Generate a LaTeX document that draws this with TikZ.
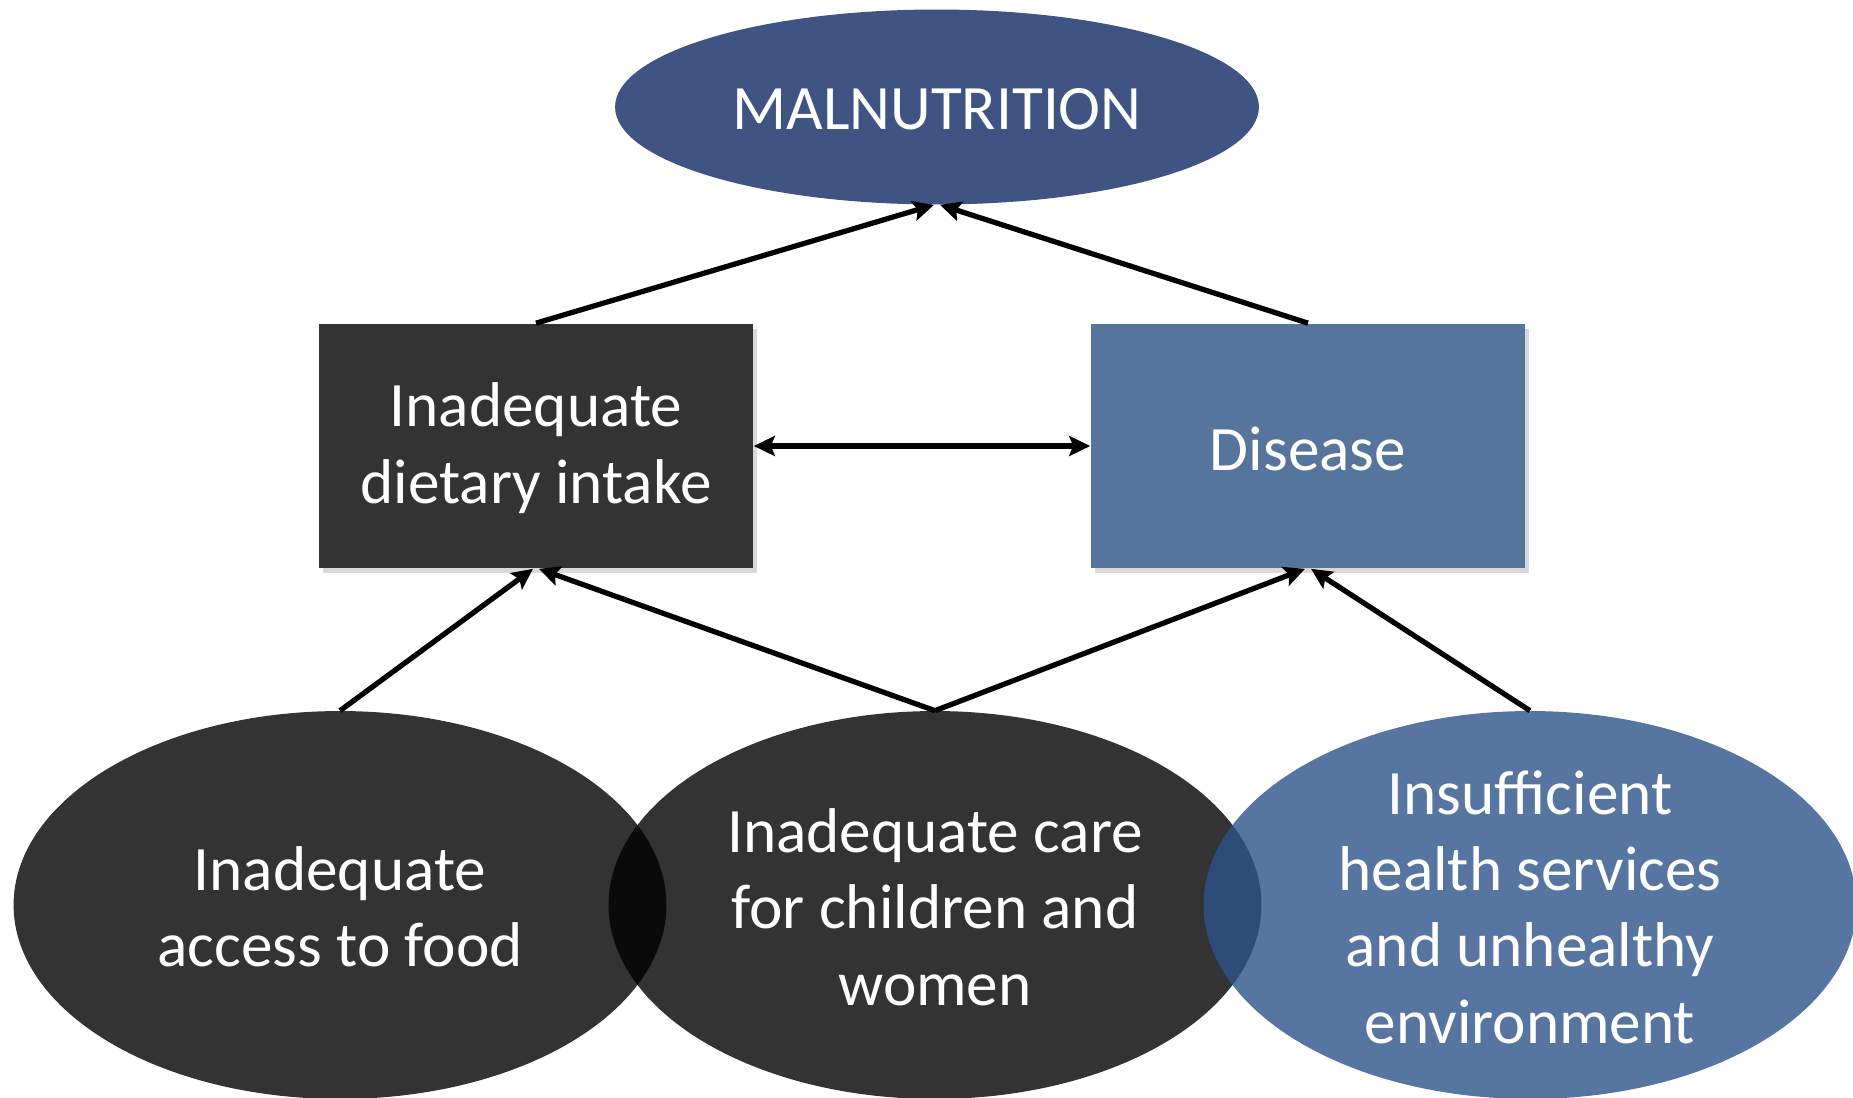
\documentclass[tikz,border=0pt]{standalone}
\usepackage{fontspec}
\setmainfont{Carlito}
\usetikzlibrary{shapes.geometric,arrows.meta,shadows}

\definecolor{malblue}{RGB}{63,84,131}
\definecolor{disblue}{RGB}{86,117,157}
\definecolor{envblue}{RGB}{44,84,137}
\definecolor{darkgrey}{RGB}{51,51,51}

\tikzset{
    causetext/.style={text=white, align=center, font=\fontsize{36}{43.5}\selectfont},
    causebox/.style={rectangle, minimum width=8.7cm, minimum height=4.9cm,
        drop shadow={shadow xshift=0.08cm, shadow yshift=-0.1cm, opacity=0.3}},
    causeoval/.style={ellipse, minimum width=13.06cm, minimum height=7.76cm, inner sep=0pt},
    link/.style={-{Stealth[length=0.42cm, width=0.4cm, inset=0.08cm]}, line width=3pt},
    duallink/.style={{Stealth[length=0.42cm, width=0.4cm, inset=0.08cm]}-{Stealth[length=0.42cm, width=0.4cm, inset=0.08cm]}, line width=3pt}
}

\begin{document}
\begin{tikzpicture}[x=0.02cm, y=-0.02cm]
        \useasboundingbox (0,0) rectangle (1853,1098);

        % top and middle level
        \node (mal) [ellipse, fill=malblue, minimum width=12.88cm, minimum height=3.9cm, inner sep=0pt] at (937,107) {};
        \node (malT) [causetext] at (937,109) {MALNUTRITION};
        \node (diet) [causebox, fill=darkgrey] at (536,446) {};
        \node (dietT) [causetext] at (536,448) {Inadequate\\dietary intake};
        \node (dis) [causebox, fill=disblue] at (1308,446) {};
        \node (disT) [causetext] at (1308,449) {Disease};

        % underlying causes
        \begin{scope}[every node/.style={causeoval}]
            \node (food) [fill=black, fill opacity=0.8] at (340,905) {};
            \node (care) [fill=black, fill opacity=0.8] at (935,905) {};
            \node (env) [fill=envblue, fill opacity=0.8] at (1530,905) {};
        \end{scope}
        \node (foodT) [causetext] at (340,907) {Inadequate\\access to food};
        \node (careT) [causetext] at (935,907) {Inadequate care\\for children and\\women};
        \node (envT) [causetext] at (1530,907) {Insufficient\\health services\\and unhealthy\\environment};

        \path [link] (diet.north) edge ([xshift=-0.06cm]mal.south);
        \path [link] (dis.north) edge ([xshift=0.06cm]mal.south);
        \path [duallink] (diet.east) edge (dis.west);
        \path [link] (food.north) edge ([xshift=-0.06cm]diet.south);
        \path [link] (care.north) edge ([xshift=0.06cm]diet.south);
        \path [link] (care.north) edge ([xshift=-0.06cm]dis.south);
        \path [link] (env.north) edge ([xshift=0.06cm]dis.south);
    \end{tikzpicture}
\end{document}
